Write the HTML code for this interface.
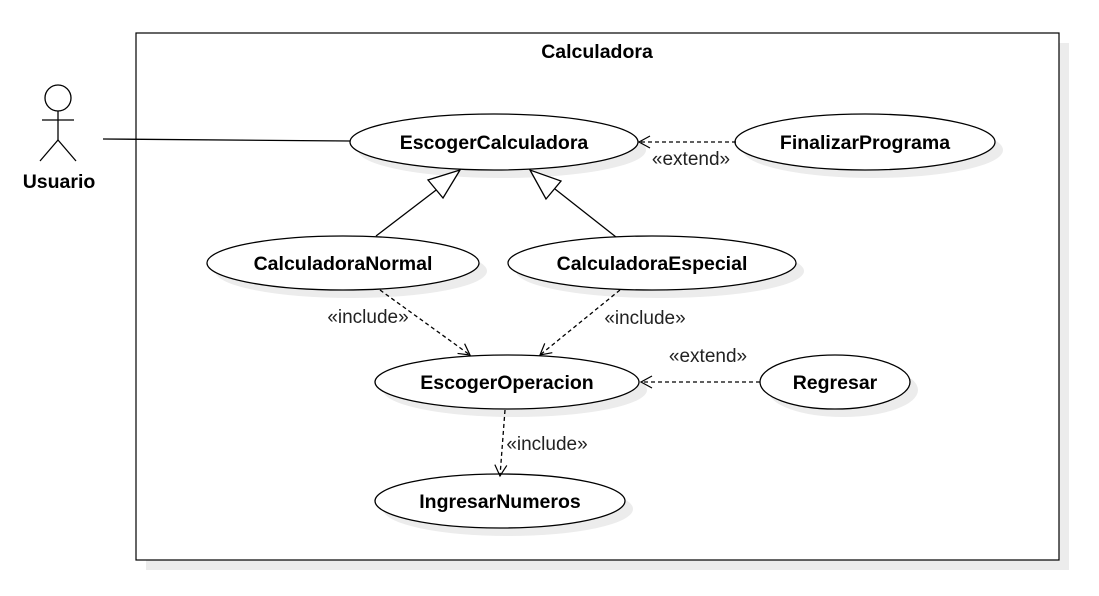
<!DOCTYPE html>
<html><head><meta charset="utf-8"><style>
html,body{margin:0;padding:0;background:#fff;}
svg{display:block;font-family:"Liberation Sans",Arial,sans-serif;}
</style></head><body>
<svg width="1099" height="596" viewBox="0 0 1099 596" xmlns="http://www.w3.org/2000/svg">
<defs>
<marker id="open" markerWidth="14" markerHeight="14" refX="12" refY="7" orient="auto" markerUnits="userSpaceOnUse">
<path d="M1,1 L12,7 L1,13" fill="none" stroke="#000" stroke-width="1.2"/>
</marker>
</defs>
<rect x="146" y="43" width="923" height="527" fill="#ececec"/>
<rect x="136" y="33" width="923" height="527" fill="#fff" stroke="#000" stroke-width="1.2"/>
<text x="597" y="58" font-size="19.5" font-weight="bold" text-anchor="middle">Calculadora</text>

<!-- actor -->
<circle cx="58" cy="98" r="13" fill="#fff" stroke="#000" stroke-width="1.3"/>
<line x1="58" y1="111" x2="58" y2="140" stroke="#000" stroke-width="1.3"/>
<line x1="42" y1="120" x2="74" y2="120" stroke="#000" stroke-width="1.3"/>
<line x1="58" y1="140" x2="40" y2="161" stroke="#000" stroke-width="1.3"/>
<line x1="58" y1="140" x2="76" y2="161" stroke="#000" stroke-width="1.3"/>
<text x="59" y="188" font-size="19.5" font-weight="bold" text-anchor="middle">Usuario</text>
<line x1="103" y1="139" x2="350" y2="141" stroke="#000" stroke-width="1.3"/>

<!-- shadows -->
<g fill="#ececec">
<ellipse cx="502" cy="150" rx="144" ry="28"/>
<ellipse cx="873" cy="150" rx="130" ry="28"/>
<ellipse cx="351" cy="271" rx="136" ry="27"/>
<ellipse cx="660" cy="271" rx="144" ry="27"/>
<ellipse cx="515" cy="390" rx="132" ry="27"/>
<ellipse cx="843" cy="390" rx="75" ry="27"/>
<ellipse cx="508" cy="509" rx="125" ry="27"/>
</g>
<g fill="#fff" stroke="#000" stroke-width="1.3">
<ellipse cx="494" cy="142" rx="144" ry="28"/>
<ellipse cx="865" cy="142" rx="130" ry="28"/>
<ellipse cx="343" cy="263" rx="136" ry="27"/>
<ellipse cx="652" cy="263" rx="144" ry="27"/>
<ellipse cx="507" cy="382" rx="132" ry="27"/>
<ellipse cx="835" cy="382" rx="75" ry="27"/>
<ellipse cx="500" cy="501" rx="125" ry="27"/>
</g>
<g font-size="19.5" font-weight="bold" text-anchor="middle">
<text x="494" y="149">EscogerCalculadora</text>
<text x="865" y="149">FinalizarPrograma</text>
<text x="343" y="270">CalculadoraNormal</text>
<text x="652" y="270">CalculadoraEspecial</text>
<text x="507" y="389">EscogerOperacion</text>
<text x="835" y="389">Regresar</text>
<text x="500" y="508">IngresarNumeros</text>
</g>

<!-- generalizations -->
<line x1="376" y1="236" x2="444" y2="184" stroke="#000" stroke-width="1.3"/>
<path d="M460,170 L443,198 L428,180 Z" fill="#fff" stroke="#000" stroke-width="1.3"/>
<line x1="616" y1="237" x2="555" y2="189" stroke="#000" stroke-width="1.3"/>
<path d="M530,170 L546,199 L561,181 Z" fill="#fff" stroke="#000" stroke-width="1.3"/>

<!-- dashed -->
<g stroke="#000" stroke-width="1.3" stroke-dasharray="4,3" fill="none" marker-end="url(#open)">
<line x1="736" y1="142" x2="639" y2="142"/>
<line x1="380" y1="290" x2="470" y2="355"/>
<line x1="620" y1="290" x2="540" y2="355"/>
<line x1="760" y1="382" x2="641" y2="382"/>
<line x1="505" y1="410" x2="500" y2="476"/>
</g>
<g font-size="19" text-anchor="middle" fill="#222">
<text x="691" y="165">«extend»</text>
<text x="368" y="323">«include»</text>
<text x="645" y="324">«include»</text>
<text x="708" y="362">«extend»</text>
<text x="547" y="450">«include»</text>
</g>
</svg>
</body></html>
